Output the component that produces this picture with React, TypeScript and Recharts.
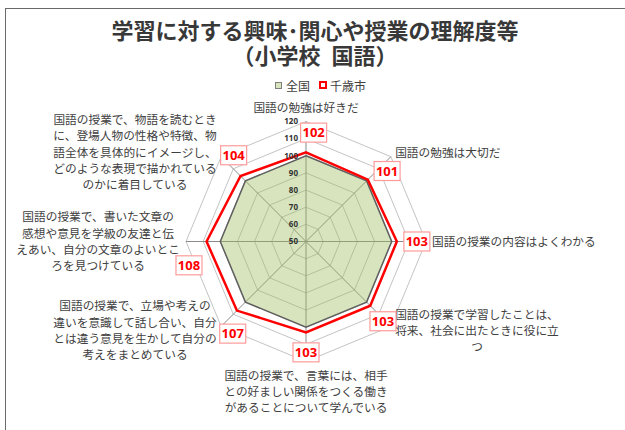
import React from "react";
import {
  PolarAngleAxis,
  PolarGrid,
  PolarRadiusAxis,
  Radar,
  RadarChart,
} from "recharts";

// category labels, already broken into the lines used in the picture
const labelLines: string[][] = [
  ["国語の勉強は好きだ"],
  ["国語の勉強は大切だ"],
  ["国語の授業の内容はよくわかる"],
  ["国語の授業で学習したことは、", "将来、社会に出たときに役に立", "つ"],
  ["国語の授業で、言葉には、相手", "との好ましい関係をつくる働き", "があることについて学んでいる"],
  ["国語の授業で、立場や考えの", "違いを意識して話し合い、自分", "とは違う意見を生かして自分の", "考えをまとめている"],
  ["国語の授業で、書いた文章の", "感想や意見を学級の友達と伝", "えあい、自分の文章のよいとこ", "ろを見つけている"],
  ["国語の授業で、物語を読むとき", "に、登場人物の性格や特徴、物", "語全体を具体的にイメージし、", "どのような表現で描かれている", "のかに着目している"],
];
const categories = labelLines.map((l) => l.join(""));
const nationalValues = [100, 100, 100, 100, 100, 100, 100, 100];
const chitoseValues = [102, 101, 103, 103, 103, 107, 108, 104];
const radiusTicks = [50, 60, 70, 80, 90, 100, 110, 120];

const data = categories.map((name, i) => ({
  name,
  national: nationalValues[i],
  chitose: chitoseValues[i],
}));

const W = 620;
const H = 422;
const CX = 301;
const CY = 233.5;
const R = 120;
const FONT = "'Noto Sans CJK JP', 'Noto Sans', sans-serif";
const LABEL_SIZE = 11.7;
const LINE_H = 16.3;
// small turn (degrees) of each value box around its point, so boxes clear the texts
const labelTurn = [-4, -4, 0, -1, 0, 6.5, 11.5, -5];

// multi-line category label, anchored depending on where it sits around the web
const AngleTick = (props: any) => {
  const { payload } = props;
  const idx = categories.indexOf(payload.value);
  const lines = labelLines[idx] || [String(payload.value)];
  const rad = (payload.coordinate * Math.PI) / 180;
  const cos = Math.cos(rad);
  const sin = Math.sin(rad);
  const px = CX + (R + 6) * cos;
  const py = CY - (R + 6) * sin;
  const blockW = Math.max(...lines.map((l) => l.length)) * LABEL_SIZE;
  const blockH = lines.length * LINE_H;
  let mid = px;
  if (cos > 0.2) mid = px + blockW / 2;
  else if (cos < -0.2) mid = px - blockW / 2;
  let top = py - blockH / 2;
  if (sin > 0.9) top = py - blockH;
  else if (sin < -0.9) top = py;
  return (
    <text textAnchor="middle" fontSize={LABEL_SIZE} fill="#404040" fontFamily={FONT}>
      {lines.map((l, i) => (
        <tspan key={i} x={mid} y={top + LINE_H * i + LINE_H / 2 + LABEL_SIZE * 0.36}>
          {l}
        </tspan>
      ))}
    </text>
  );
};

const RadiusTick = (props: any) => {
  const { x, y, payload } = props;
  return (
    <text
      x={x - 8}
      y={y + 2.8}
      textAnchor="end"
      fontSize={8}
      fontWeight="bold"
      fill="#333"
      fontFamily="'Noto Sans', sans-serif"
    >
      {payload.value}
    </text>
  );
};

// boxed value label placed a little outside each red point
const ValueLabel = (props: any) => {
  const { cx, cy, index } = props;
  const dx = cx - CX;
  const dy = cy - CY;
  const dist = Math.hypot(dx, dy);
  const ang = Math.atan2(-dy, dx) + ((labelTurn[index] || 0) * Math.PI) / 180;
  const x = CX + (dist + 20) * Math.cos(ang);
  const y = CY - (dist + 20) * Math.sin(ang);
  return (
    <g key={`lbl-${index}`}>
      <rect x={x - 13} y={y - 9.5} width={26} height={19} fill="#fff" stroke="#ff9b9b" strokeWidth={1.2} />
      <text
        x={x}
        y={y + 4.6}
        textAnchor="middle"
        fontSize={13}
        fontWeight="bold"
        fill="#ff0000"
        fontFamily="'Noto Sans', sans-serif"
      >
        {chitoseValues[index]}
      </text>
    </g>
  );
};

export default function App() {
  return (
    <div
      style={{
        position: "fixed",
        left: 5,
        top: 8,
        width: W,
        height: H,
        overflow: "hidden",
        background: "#fff",
      }}
    >
      <div
        style={{
          position: "absolute",
          left: 0,
          top: 0,
          width: 700,
          height: 500,
          border: "1.5px solid #6a6a6a",
        }}
      />
      <div
        style={{
          position: "absolute",
          left: 0,
          top: 9,
          width: W,
          textAlign: "center",
          fontFamily: FONT,
          fontWeight: "bold",
          fontSize: 22,
          lineHeight: "25px",
          color: "#383838",
          whiteSpace: "pre",
        }}
      >
        {"学習に対する興味･関心や授業の理解度等\n（小学校\u2002国語）"}
      </div>
      <div
        style={{
          position: "absolute",
          left: 270,
          top: 69,
          height: 16,
          display: "flex",
          alignItems: "center",
          fontFamily: FONT,
          fontSize: 12,
          color: "#404040",
        }}
      >
        <span style={{ width: 5, height: 5, border: "1px solid #7f7f7f", background: "#d7e4bd", marginRight: 4 }} />
        <span>全国</span>
        <span style={{ width: 4, height: 4, border: "2px solid #ff0000", background: "#fff", marginLeft: 9, marginRight: 3 }} />
        <span>千歳市</span>
      </div>
      <div style={{ position: "absolute", left: 0, top: 0 }}>
        <RadarChart
          width={W}
          height={H}
          data={data}
          cx={CX}
          cy={CY}
          outerRadius={R}
          startAngle={90}
          endAngle={-270}
          margin={{ top: 0, right: 0, bottom: 0, left: 0 }}
        >
          <PolarGrid gridType="polygon" radialLines={false} stroke="#c4c4c4" strokeWidth={1} />
          <PolarGrid gridType="polygon" polarRadius={[]} stroke="#8a8a8a" strokeWidth={1} />
          <PolarAngleAxis dataKey="name" tick={<AngleTick />} tickLine={false} axisLine={false} />
          <Radar
            name="全国"
            dataKey="national"
            stroke="#5f5f5f"
            strokeWidth={1.5}
            fill="#9bbb59"
            fillOpacity={0.4}
            dot={false}
            isAnimationActive={false}
          />
          <Radar
            name="千歳市"
            dataKey="chitose"
            stroke="#ff0000"
            strokeWidth={2.5}
            fill="none"
            fillOpacity={0}
            dot={(p: any) => <ValueLabel {...p} />}
            isAnimationActive={false}
          />
          <PolarRadiusAxis
            angle={90}
            domain={[50, 120]}
            ticks={radiusTicks}
            tickCount={8}
            axisLine={false}
            tickLine={false}
            tick={<RadiusTick />}
          />
        </RadarChart>
      </div>
    </div>
  );
}
